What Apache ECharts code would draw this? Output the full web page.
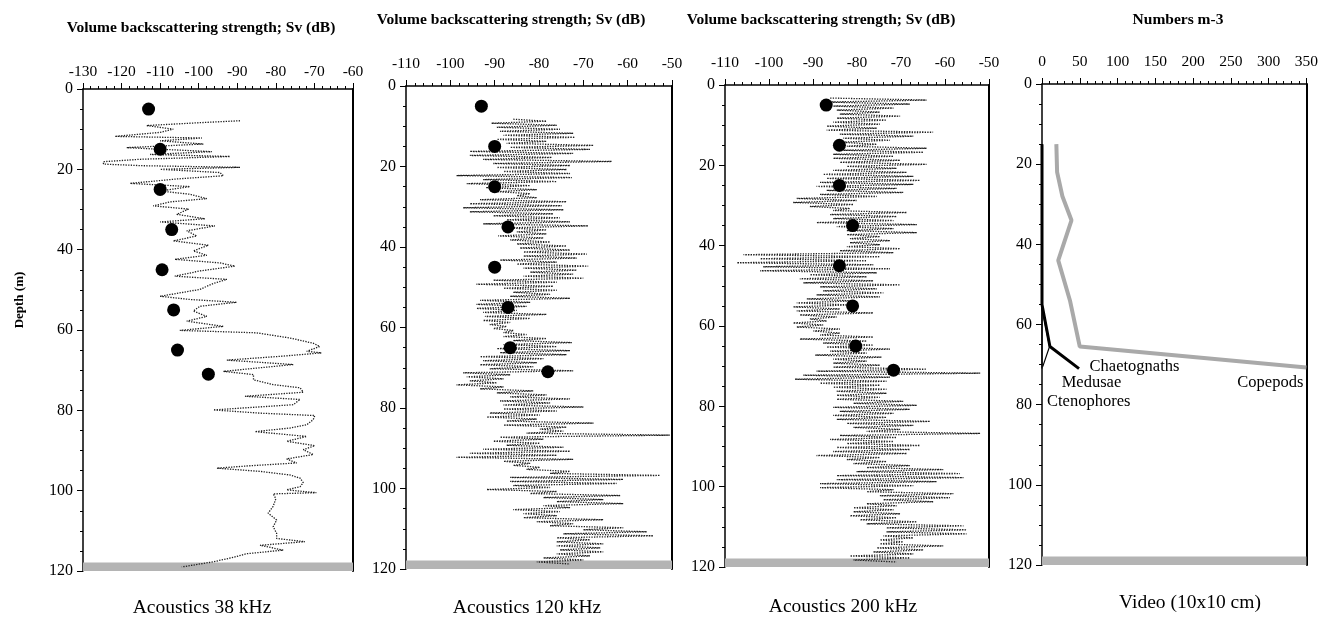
<!DOCTYPE html>
<html>
<head>
<meta charset="utf-8">
<title>Sv profiles</title>
<script src="https://cdn.jsdelivr.net/npm/echarts@6/dist/echarts.min.js"></script>
<style>
  html, body { margin: 0; padding: 0; background: #fff; }
  #chart { width: 1321px; height: 624px; }
</style>
</head>
<body>
<div id="chart"></div>
<script>
// 38 kHz trace: depth (m) and Sv (dB)
const depth38 = [7.9, 8.4, 9.1, 10.0, 10.8, 11.8, 12.2, 12.9, 13.7, 14.6,
  15.6, 16.3, 16.8, 17.5, 18.1, 18.7, 19.1, 19.5, 20.0, 20.8,
  21.6, 22.4, 23.5, 24.3, 25.4, 26.2, 27.3, 28.1, 29.1, 29.9,
  31.2, 32.3, 33.1, 34.1, 35.3, 36.6, 37.8, 38.9, 40.3, 41.4,
  42.4, 43.3, 44.1, 45.3, 46.6, 47.4, 48.4, 49.9, 51.6, 52.4,
  53.1, 54.1, 55.3, 56.6, 57.8, 59.1, 60.1, 60.7, 62.0, 63.3,
  64.1, 65.3, 65.7, 66.5, 67.5, 68.6, 70.3, 71.1, 72.4, 73.6,
  74.4, 75.5, 76.5, 77.3, 78.6, 79.9, 80.7, 81.3, 82.3, 83.6,
  84.4, 85.3, 86.5, 87.7, 88.8, 89.8, 91.0, 92.1, 93.1, 93.8,
  94.4, 95.2, 96.1, 96.9, 98.0, 99.0, 99.8, 100.5, 100.8, 102.0,
  103.9, 105.6, 107.3, 109.0, 110.6, 111.9, 112.7, 113.6, 114.8, 115.7,
  116.6, 117.7, 119.0]
const sv38 = [-89.3, -100, -113.5, -106.6, -110, -121.7, -99.2, -110, -98.8, -118.7,
  -96.6, -112.6, -91.9, -115.2, -124.7, -124.7, -114.4, -89.3, -110, -94.5,
  -93.6, -105.7, -117.8, -102.3, -110, -102.3, -97.9, -107.4, -111.8, -102.6,
  -105.7, -98.4, -110, -95.8, -103.1, -100.5, -106.6, -97.5, -101.4, -97.9,
  -106.2, -94.5, -90.6, -99.7, -106.2, -92.7, -96.2, -99.7, -110, -102.3,
  -90.2, -99.7, -101.4, -97.9, -103.1, -93.6, -104.9, -85, -76.3, -70.3,
  -68.6, -72, -68.2, -78.1, -92.7, -75.5, -93.6, -85.8, -85.8, -80.7,
  -73.7, -72.9, -88, -73.7, -75.5, -96.2, -84.1, -69.9, -70.3, -72,
  -76.3, -85.4, -72, -77.2, -69.9, -72.9, -70.3, -77.2, -74.6, -86.7,
  -95.3, -84.1, -76.3, -73.7, -72.9, -73.7, -77.2, -69.5, -80.7, -80,
  -80.7, -82, -79.8, -80.7, -79.8, -79.8, -72.5, -84.1, -78.1, -87.6,
  -91, -96.2, -104.4]

// 120 kHz trace: low / high reading for each metre, starting at 8 m
const start120 = 8
const sv120 = [
  -85.8, -78.3, -90.7, -76.0, -89.5, -75.3, -88.8, -72.3, -88.0, -71.9,
  -89.5, -78.3, -87.3, -67.7, -86.5, -68.5, -95.6, -72.3, -95.6, -77.1,
  -92.6, -63.6, -90.3, -73.0, -89.5, -73.8, -88.0, -73.0, -98.6, -72.6,
  -92.6, -76.0, -96.3, -82.0, -92.0, -80.5, -89.5, -82.0, -85.0, -80.5,
  -93.3, -73.8, -95.6, -74.9, -97.1, -74.5, -95.6, -76.8, -90.3, -75.3,
  -87.3, -73.0, -92.6, -68.9, -87.3, -78.3, -85.0, -78.3, -89.2, -79.0,
  -86.5, -77.5, -85.0, -73.8, -84.3, -73.0, -83.5, -69.2, -83.5, -71.5,
  -88.8, -76.0, -85.0, -68.9, -83.5, -71.5, -82.0, -72.3, -83.5, -70.0,
  -90.3, -76.0, -94.1, -76.8, -88.0, -76.0, -85.8, -77.5, -86.5, -73.0,
  -93.3, -82.0, -94.1, -82.8, -94.1, -85.0, -92.6, -78.3, -92.2, -82.0,
  -92.6, -86.5, -91.1, -87.3, -90.3, -85.8, -88.0, -82.8, -88.0, -78.3,
  -85.8, -72.6, -88.0, -76.0, -89.5, -73.0, -88.8, -73.8, -93.3, -79.0,
  -92.6, -80.5, -93.3, -81.3, -91.1, -72.3, -97.1, -86.5, -96.3, -88.0,
  -95.6, -89.5, -98.6, -88.0, -93.3, -81.3, -89.5, -78.3, -86.5, -73.0,
  -88.8, -77.5, -88.0, -70.0, -88.0, -76.0, -91.1, -79.8, -91.8, -80.5,
  -87.3, -67.7, -88.0, -73.8, -79.8, -74.5, -82.8, -50.5, -88.8, -79.0,
  -90.3, -79.8, -87.3, -74.5, -92.6, -73.0, -95.6, -76.0, -98.6, -72.3,
  -88.0, -82.0, -85.8, -79.8, -82.8, -73.0, -77.5, -52.7, -86.5, -61.0,
  -86.5, -62.5, -85.8, -77.5, -91.8, -76.0, -82.0, -61.7, -79.0, -65.5,
  -76.0, -61.0, -79.0, -73.0, -85.8, -75.3, -83.5, -76.0, -83.5, -65.5,
  -80.5, -72.3, -77.5, -61.0, -70.0, -55.7, -74.5, -54.2, -76.0, -68.5,
  -76.0, -65.5, -76.0, -66.2, -75.3, -65.5, -76.0, -68.5, -79.0, -70.0,
  -80.5, -73.0]

// 200 kHz trace: low / high reading for each metre, starting at 3 m
const start200 = 3
const sv200 = [
  -86.1, -64.2, -86.9, -68.0, -85.4, -71.7, -84.6, -74.8, -83.9, -70.2,
  -84.6, -73.3, -85.4, -74.8, -86.9, -75.5, -86.9, -62.7, -83.9, -67.2,
  -83.1, -72.5, -83.9, -75.5, -82.3, -64.2, -83.1, -64.9, -85.4, -71.7,
  -85.4, -70.2, -83.9, -64.2, -82.3, -71.0, -85.4, -68.7, -87.7, -67.2,
  -86.9, -65.7, -88.4, -67.2, -89.2, -71.0, -86.9, -69.5, -88.4, -75.5,
  -93.7, -80.1, -94.5, -80.8, -90.7, -81.6, -85.4, -68.7, -86.1, -71.0,
  -85.4, -71.7, -89.2, -66.4, -84.6, -71.7, -82.3, -66.4, -82.3, -74.8,
  -81.6, -72.5, -81.6, -74.8, -82.3, -70.2, -83.9, -71.7, -105.8, -74.8,
  -102.0, -77.8, -107.3, -76.3, -101.3, -72.5, -102.0, -75.5, -90.7, -77.8,
  -93.0, -76.3, -92.2, -70.2, -88.4, -75.5, -87.7, -74.0, -89.2, -74.8,
  -91.4, -80.8, -93.7, -81.6, -94.5, -83.9, -93.7, -76.3, -93.0, -84.6,
  -90.7, -86.9, -94.5, -87.7, -93.7, -83.9, -89.9, -83.9, -88.4, -76.3,
  -93.0, -77.8, -87.7, -76.3, -86.9, -72.5, -86.1, -77.8, -89.5, -74.4,
  -85.4, -77.8, -85.4, -74.8, -85.4, -64.2, -89.2, -52.0, -92.2, -72.5,
  -94.1, -73.3, -88.4, -74.8, -85.4, -73.3, -84.6, -73.3, -84.6, -74.8,
  -84.6, -69.5, -80.8, -66.4, -85.4, -68.0, -83.9, -71.7, -85.4, -73.3,
  -84.6, -63.4, -82.3, -67.2, -80.8, -70.2, -77.8, -52.0, -83.9, -71.0,
  -86.1, -71.7, -82.3, -65.7, -84.6, -68.0, -85.4, -68.7, -89.2, -74.8,
  -82.3, -73.3, -80.8, -68.0, -77.8, -60.4, -80.1, -56.6, -84.6, -55.8,
  -84.6, -61.9, -88.4, -67.2, -88.4, -71.7, -77.8, -58.1, -74.8, -58.9,
  -74.0, -62.7, -77.8, -71.0, -80.8, -71.7, -80.8, -70.2, -81.6, -71.0,
  -79.3, -66.4, -77.8, -55.8, -73.3, -55.1, -73.3, -55.1, -74.0, -67.2,
  -74.8, -69.5, -74.8, -60.4, -75.5, -64.9, -76.3, -67.2, -81.6, -68.0,
  -80.8, -71.0]

// net samples (dots)
const netDepth = [5, 15, 25, 35, 45, 55, 65, 71]
const net38 = [-113, -110, -110, -107, -109.5, -106.5, -105.5, -97.5]
const net120 = [-93, -90, -90, -87, -90, -87, -86.5, -78]
const net200 = [-87, -84, -84, -81, -84, -81, -80.3, -71.7]

// video counts, numbers m-3
const copeDepth = [15, 22, 28, 34, 44, 54, 65.5, 70.7]
const copepods = [19, 20, 27, 39, 21.5, 37, 50, 350]
const chaetDepth = [15, 55, 65.5, 71]
const chaetognaths = [0, 0, 10.5, 49]
const medDepth = [15, 56, 65.5, 70.5]
const medusae = [0, 0, 10, 1]
const ctenoDepth = [15, 71]
const ctenophores = [0, 0]

const depthTicks = [0, 120, 20]

const font = '"Liberation Serif", "Times New Roman", serif'

const panels = [
  {left: 83, top: 89, width: 270, height: 482, min: -130, max: -60, interval: 10, margin: 9},
  {left: 406, top: 86, width: 266, height: 483, min: -110, max: -50, interval: 10, margin: 14},
  {left: 725, top: 85, width: 264, height: 482, min: -110, max: -50, interval: 10, margin: 14},
  {left: 1042, top: 84, width: 266, height: 481, min: 0, max: 350, interval: 50, margin: 14}
]

let chart = echarts.init(document.getElementById('chart'))

const zip = (xs, ys) => xs.map((x, i) => [x, ys[i]])
// two readings per metre, low one in the upper half, high one in the lower half
const perMetre = (vals, start) => vals.map((v, i) => [v, start + 0.25 + 0.5 * i])

const black = '#000'
const traceColor = '#1e1e1e'

const seabed = {
  silent: true,
  itemStyle: {color: '#b4b4b4', opacity: 1},
  data: [[{yAxis: 117.9}, {yAxis: 120}]]
}

function trace(i, data) {
  return {
    type: 'line', xAxisIndex: i, yAxisIndex: i * 2, data: data,
    showSymbol: false, lineStyle: {color: traceColor, width: 1.3, type: [1.3, 1.3]}, z: 3
  }
}

function dots(i, xs) {
  return {
    type: 'scatter', xAxisIndex: i, yAxisIndex: i * 2, data: zip(xs, netDepth),
    symbolSize: 13, itemStyle: {color: black, opacity: 1}, z: 5, clip: false,
    markArea: seabed
  }
}

const yAxes = []
panels.forEach((p, i) => {
  yAxes.push({
    gridIndex: i, type: 'value', inverse: true,
    min: depthTicks[0], max: depthTicks[1], interval: depthTicks[2],
    axisLine: {show: true, onZero: false, lineStyle: {color: black, width: 1.5}},
    axisTick: {show: true, length: 6, lineStyle: {color: black}},
    minorTick: {show: true, splitNumber: 4, length: 3, lineStyle: {color: black}},
    axisLabel: {color: black, fontFamily: font, fontSize: 16, margin: 10},
    splitLine: {show: false}
  })
  // right edge of the frame
  yAxes.push({
    gridIndex: i, type: 'value', position: 'right', inverse: true,
    min: depthTicks[0], max: depthTicks[1],
    axisLine: {show: true, onZero: false, lineStyle: {color: black, width: 2}},
    axisTick: {show: false}, axisLabel: {show: false}, splitLine: {show: false}
  })
})

const titles = [
  {x: 201, y: 28, text: 'Volume backscattering strength; Sv (dB)'},
  {x: 511, y: 20, text: 'Volume backscattering strength; Sv (dB)'},
  {x: 821, y: 20, text: 'Volume backscattering strength; Sv (dB)'},
  {x: 1178, y: 20, text: 'Numbers m-3'}
]
const captions = [
  {x: 202, y: 608, text: 'Acoustics 38 kHz'},
  {x: 527, y: 608, text: 'Acoustics 120 kHz'},
  {x: 843, y: 607, text: 'Acoustics 200 kHz'},
  {x: 1190, y: 603, text: 'Video (10x10 cm)'}
]

const graphic = []
titles.forEach(t => graphic.push({
  type: 'text', x: t.x, y: t.y,
  style: {text: t.text, font: 'bold 15.5px ' + font, fill: black, textAlign: 'center', textVerticalAlign: 'middle'}
}))
captions.forEach(t => graphic.push({
  type: 'text', x: t.x, y: t.y,
  style: {text: t.text, font: '19.5px ' + font, fill: black, textAlign: 'center', textVerticalAlign: 'middle'}
}))
graphic.push({
  type: 'text', x: 20, y: 300, rotation: Math.PI / 2,
  style: {text: 'Depth (m)', font: 'bold 13px ' + font, fill: black, textAlign: 'center', textVerticalAlign: 'middle'}
})

const taxaLabel = (pos) => ({show: true, position: pos, distance: 0, color: black, fontFamily: font, fontSize: 16.5, formatter: '{b}'})

chart.setOption({
  animation: false,
  backgroundColor: '#fff',
  grid: panels.map(p => ({left: p.left, top: p.top, width: p.width, height: p.height})),
  xAxis: panels.map((p, i) => ({
    gridIndex: i, type: 'value', position: 'top', min: p.min, max: p.max, interval: p.interval,
    axisLine: {show: true, onZero: false, lineStyle: {color: black, width: 1.5}},
    axisTick: {show: true, length: 6, lineStyle: {color: black}},
    minorTick: {show: true, splitNumber: 5, length: 3, lineStyle: {color: black}},
    axisLabel: {color: black, fontFamily: font, fontSize: 15.5, margin: p.margin},
    splitLine: {show: false}
  })),
  yAxis: yAxes,
  graphic: graphic,
  series: [
    trace(0, zip(sv38, depth38)),
    dots(0, net38),
    trace(1, perMetre(sv120, start120)),
    dots(1, net120),
    trace(2, perMetre(sv200, start200)),
    dots(2, net200),
    {
      type: 'line', name: 'Copepods', xAxisIndex: 3, yAxisIndex: 6, data: zip(copepods, copeDepth),
      showSymbol: false, lineStyle: {color: '#a9a9a9', width: 4}, z: 3, clip: false,
      markArea: seabed
    },
    {
      type: 'line', name: 'Ctenophores', xAxisIndex: 3, yAxisIndex: 6, data: zip(ctenophores, ctenoDepth),
      showSymbol: false, lineStyle: {color: black, width: 1.2}, z: 4
    },
    {
      type: 'line', name: 'Medusae', xAxisIndex: 3, yAxisIndex: 6, data: zip(medusae, medDepth),
      showSymbol: false, lineStyle: {color: black, width: 1.2}, z: 4
    },
    {
      type: 'line', name: 'Chaetognaths', xAxisIndex: 3, yAxisIndex: 6, data: zip(chaetognaths, chaetDepth),
      showSymbol: false, lineStyle: {color: black, width: 3}, z: 4
    },
    {
      type: 'scatter', xAxisIndex: 3, yAxisIndex: 6, symbolSize: 0, silent: true,
      itemStyle: {opacity: 1},
      data: [
        {name: 'Chaetognaths', value: [63, 70.6], label: taxaLabel('right')},
        {name: 'Medusae', value: [26, 74.6], label: taxaLabel('right')},
        {name: 'Ctenophores', value: [6.6, 79.3], label: taxaLabel('right')},
        {name: 'Copepods', value: [346, 74.6], label: taxaLabel('left')}
      ]
    }
  ]
})

window.addEventListener('resize', () => chart.resize())
</script>
</body>
</html>
